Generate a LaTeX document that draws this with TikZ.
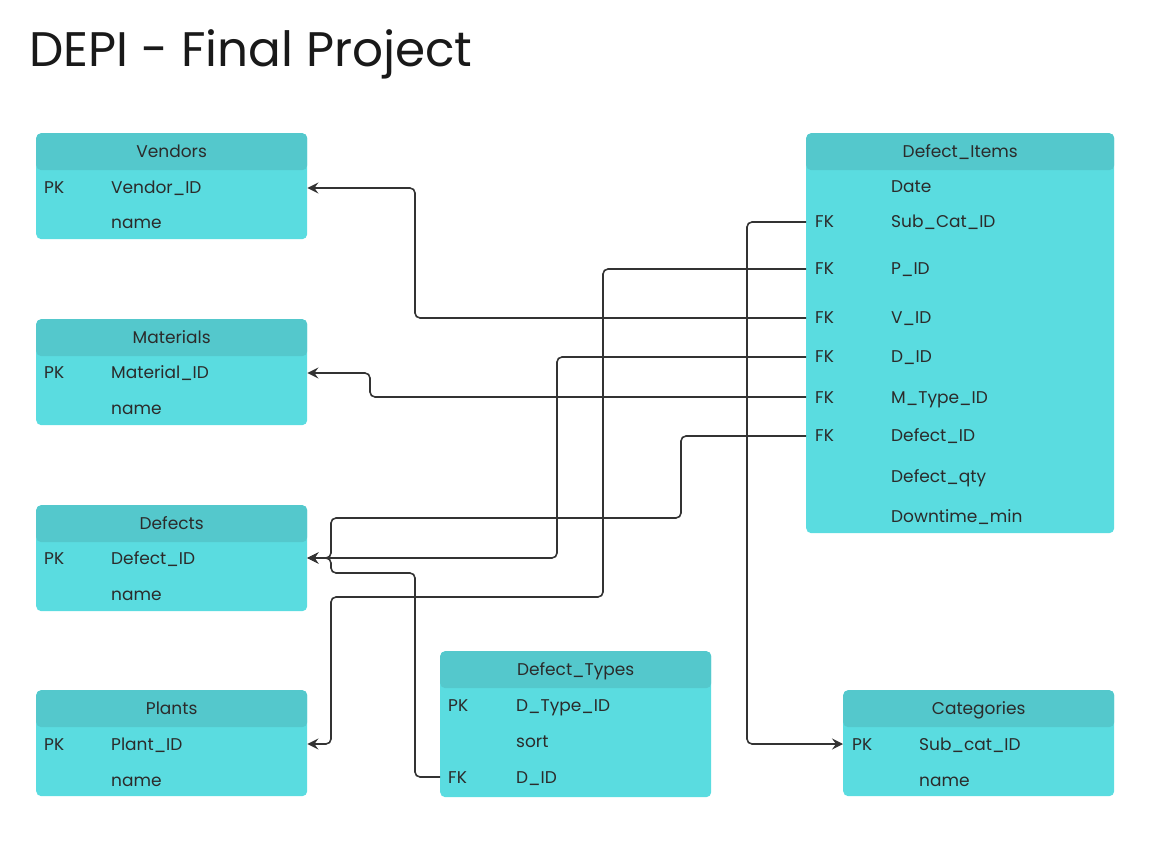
\documentclass[tikz,border=0pt]{standalone}
\usepackage{fontspec}
\setmainfont{Poppins}
\usetikzlibrary{arrows.meta}

\definecolor{headfill}{HTML}{54C8CC}
\definecolor{bodyfill}{HTML}{5ADCE0}
\definecolor{inkcol}{HTML}{2B2B2B}
\definecolor{linecol}{HTML}{333333}

\begin{document}
\begin{tikzpicture}[x=1pt, y=-1pt,
  tablebody/.style = {rectangle, fill=bodyfill, rounded corners=5pt, anchor=north west, inner sep=0pt},
  tablehead/.style = {rectangle, fill=headfill, rounded corners=5pt, anchor=north west, inner sep=0pt,
                      minimum height=37pt, text height=12pt, text depth=0pt, text=inkcol},
  field/.style = {anchor=west, inner sep=0pt, text height=12pt, text depth=0pt, text=inkcol},
  link/.style = {draw=linecol, line width=1.6pt, rounded corners=5pt},
  font=\fontsize{17}{20}\selectfont]
  \useasboundingbox (0,0) rectangle (1154,866);

  % Title.
  \node at (29,67) [anchor=base west, inner sep=0pt, text=black!90, font=\fontsize{48.5}{58}\selectfont, name=Title] {DEPI - Final Project};

  % Tables.
  \node at (36,133) [tablebody, minimum width=271pt, minimum height=106pt, name=Vendors] {};
  \node at (36,133) [tablehead, minimum width=271pt, name=VendorsHead] {Vendors};
  \node at (44,188) [field, name=VendorsPK] {PK};
  \node at (111,188) [field, name=VendorsID] {Vendor\_ID};
  \node at (111,223) [field, name=VendorsName] {name};

  \node at (36,319) [tablebody, minimum width=271pt, minimum height=106pt, name=Materials] {};
  \node at (36,319) [tablehead, minimum width=271pt, name=MaterialsHead] {Materials};
  \node at (44,373) [field, name=MaterialsPK] {PK};
  \node at (111,373) [field, name=MaterialsID] {Material\_ID};
  \node at (111,409) [field, name=MaterialsName] {name};

  \node at (36,505) [tablebody, minimum width=271pt, minimum height=106pt, name=Defects] {};
  \node at (36,505) [tablehead, minimum width=271pt, name=DefectsHead] {Defects};
  \node at (44,558) [field, name=DefectsPK] {PK};
  \node at (111,558) [field, name=DefectsID] {Defect\_ID};
  \node at (111,594) [field, name=DefectsName] {name};

  \node at (36,690) [tablebody, minimum width=271pt, minimum height=106pt, name=Plants] {};
  \node at (36,690) [tablehead, minimum width=271pt, name=PlantsHead] {Plants};
  \node at (44,744) [field, name=PlantsPK] {PK};
  \node at (111,744) [field, name=PlantsID] {Plant\_ID};
  \node at (111,780) [field, name=PlantsName] {name};

  \node at (440,651) [tablebody, minimum width=271pt, minimum height=146pt, name=Types] {};
  \node at (440,651) [tablehead, minimum width=271pt, name=TypesHead] {Defect\_Types};
  \node at (448,705) [field, name=TypesPK] {PK};
  \node at (516,705) [field, name=TypesID] {D\_Type\_ID};
  \node at (516,741) [field, name=TypesSort] {sort};
  \node at (448,777) [field, name=TypesFK] {FK};
  \node at (516,777) [field, name=TypesDID] {D\_ID};

  \node at (843,690) [tablebody, minimum width=271pt, minimum height=106pt, name=Categories] {};
  \node at (843,690) [tablehead, minimum width=271pt, name=CategoriesHead] {Categories};
  \node at (852,744) [field, name=CategoriesPK] {PK};
  \node at (919,744) [field, name=CategoriesID] {Sub\_cat\_ID};
  \node at (919,780) [field, name=CategoriesName] {name};

  \node at (806,133) [tablebody, minimum width=308pt, minimum height=400pt, name=Items] {};
  \node at (806,133) [tablehead, minimum width=308pt, name=ItemsHead] {Defect\_Items};
  \node at (891,187) [field, name=ItemsDate] {Date};
  \node at (815,222) [field, name=ItemsSubCatFK] {FK};
  \node at (891,222) [field, name=ItemsSubCat] {Sub\_Cat\_ID};
  \node at (815,269) [field, name=ItemsPFK] {FK};
  \node at (891,269) [field, name=ItemsP] {P\_ID};
  \node at (815,318) [field, name=ItemsVFK] {FK};
  \node at (891,318) [field, name=ItemsV] {V\_ID};
  \node at (815,357) [field, name=ItemsDFK] {FK};
  \node at (891,357) [field, name=ItemsD] {D\_ID};
  \node at (815,397) [field, name=ItemsMTypeFK] {FK};
  \node at (891,397) [field, name=ItemsMType] {M\_Type\_ID};
  \node at (815,436) [field, name=ItemsDefectFK] {FK};
  \node at (891,436) [field, name=ItemsDefect] {Defect\_ID};
  \node at (891,476) [field, name=ItemsQty] {Defect\_qty};
  \node at (891,516) [field, name=ItemsDowntime] {Downtime\_min};

  % Foreign keys.
  \draw [link, -{Stealth[length=11pt, width=11pt, inset=4pt]}]
        (Items.west |- ItemsVFK)
        -- ++(-391,0)
        |- (Vendors.east |- VendorsID);
  \draw [link, -{Stealth[length=11pt, width=11pt, inset=4pt]}]
        (Items.west |- ItemsMTypeFK)
        -- ++(-436,0)
        |- (Materials.east |- MaterialsID);
  \draw [link, -{Stealth[length=11pt, width=11pt, inset=4pt]}]
        (Items.west |- ItemsSubCatFK)
        -- ++(-59,0)
        |- (Categories.west |- CategoriesID);
  \draw [link, -{Stealth[length=11pt, width=11pt, inset=4pt]}]
        (Items.west |- ItemsPFK)
        -- ++(-203,0)
        |- (331,597)
        |- (Plants.east |- PlantsID);
  \draw [link, -{Stealth[length=11pt, width=11pt, inset=4pt]}]
        (Items.west |- ItemsDFK)
        -- ++(-249,0)
        |- (Defects.east |- DefectsID);
  \draw [link, -{Stealth[length=11pt, width=11pt, inset=4pt]}]
        (Items.west |- ItemsDefectFK)
        -- ++(-125,0)
        |- (331,518)
        |- (Defects.east |- DefectsID);
  \draw [link, -{Stealth[length=11pt, width=11pt, inset=4pt]}]
        (Types.west |- TypesFK)
        -- ++(-25,0)
        |- (331,573)
        |- (Defects.east |- DefectsID);
\end{tikzpicture}
\end{document}
